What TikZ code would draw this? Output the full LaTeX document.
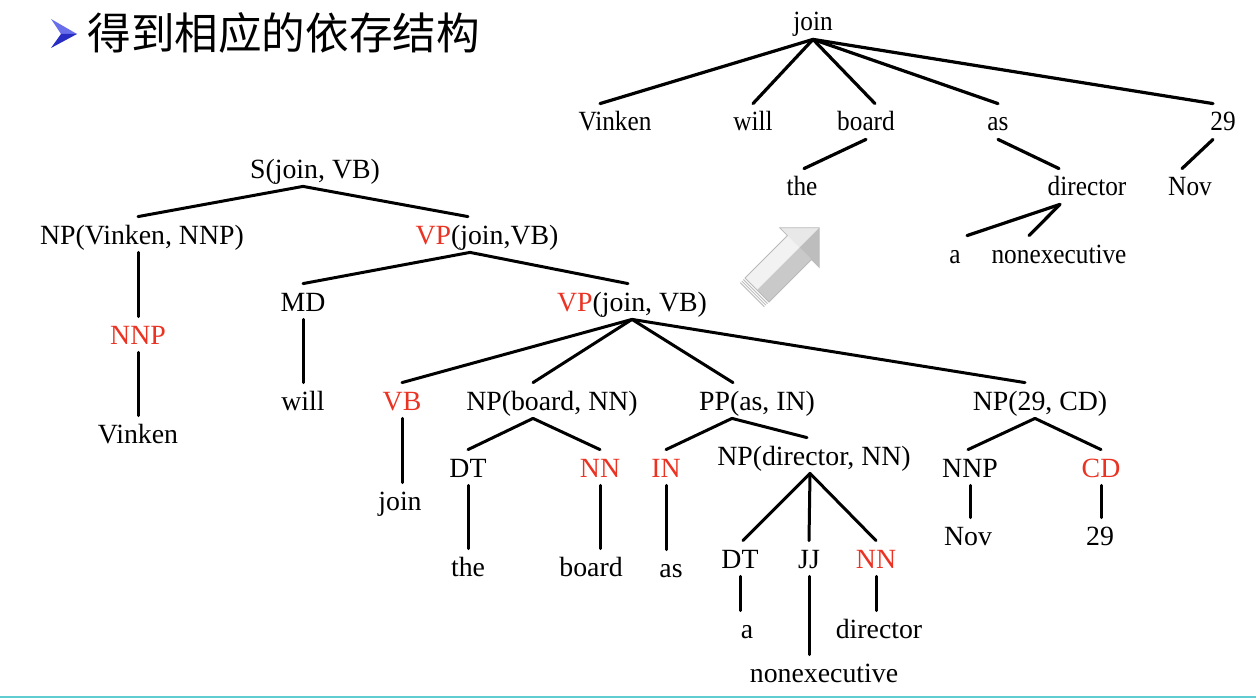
\documentclass[tikz,border=0pt]{standalone}
\usepackage{fontspec}
\setmainfont{Liberation Serif}
\newfontfamily\cjk{Noto Sans CJK SC}
\newfontfamily\narrowserif[FakeStretch=0.91]{Liberation Serif}
\definecolor{R}{RGB}{234,51,35}
\definecolor{L}{RGB}{95,205,210}
\definecolor{B}{RGB}{40,45,195}
\definecolor{BL}{RGB}{105,110,235}
\def\Xsize{1256}
\def\Ysize{700}

\begin{document}
\begin{tikzpicture}[x=0.5pt,y=-0.5pt,
    lab/.style={anchor=base,inner xsep=0pt,inner ysep=4pt,text height=9.5pt,text depth=0pt,font=\fontsize{13.9}{16}\selectfont},
    tw/.style={lab,font=\narrowserif\fontsize{13.9}{16}\selectfont},
    E/.style={line width=1.5pt,line cap=round}]
    \path[use as bounding box,fill=white] (0,0) rectangle (\Xsize,\Ysize);
    \fill[BL] (51,19) -- (77,34) -- (61,34) -- cycle;
    \fill[B] (61,34) -- (77,34) -- (51,48) -- cycle;
    \node[anchor=west,inner sep=0pt,font=\cjk\fontsize{21.8}{24}\selectfont] (title) at (87,33) {得到相应的依存结构};

    \node[lab] (S) at (315,178) {S(join, VB)};
    \node[lab] (NPv) at (142,244) {NP(Vinken, NNP)};
    \node[lab] (VPu) at (487,244) {\textcolor{R}{VP}(join,VB)};
    \node[lab] (MD) at (303,311) {MD};
    \node[lab] (VPl) at (632,311) {\textcolor{R}{VP}(join, VB)};
    \node[lab,R] (NNP) at (138,344) {NNP};
    \node[lab] (will) at (303,410) {will};
    \node[lab,R] (VB) at (402,410) {VB};
    \node[lab] (NPb) at (552,410) {NP(board, NN)};
    \node[lab] (PP) at (757,410) {PP(as, IN)};
    \node[lab] (NPn) at (1040,410) {NP(29, CD)};
    \node[lab] (Vinken) at (138,443) {Vinken};
    \node[lab] (NPd) at (814,465) {NP(director, NN)};
    \node[lab] (DTa) at (468,477) {DT};
    \node[lab,R] (NNa) at (600,477) {NN};
    \node[lab,R] (IN) at (666,477) {IN};
    \node[lab] (NNPb) at (970,477) {NNP};
    \node[lab,R] (CD) at (1101,477) {CD};
    \node[lab] (joinw) at (400,510) {join};
    \node[lab] (Nov) at (968,545) {Nov};
    \node[lab] (n29) at (1100,545) {29};
    \node[lab] (DTb) at (740,568) {DT};
    \node[lab] (JJ) at (809,568) {JJ};
    \node[lab,R] (NNb) at (876,568) {NN};
    \node[lab] (the) at (468,576) {the};
    \node[lab] (board) at (591,576) {board};
    \node[lab] (as) at (671,577) {as};
    \node[lab] (a) at (747,638) {a};
    \node[lab] (director) at (879,638) {director};
    \node[lab] (nonexec) at (824,682) {nonexecutive};

    \foreach \P/\dP/\C/\dC in {S/-6/NPv/-2,S/-6/VPu/-9.5,VPu/-8.5/MD/0,VPu/-8.5/VPl/-2,
        VPl/0/VB/0,VPl/0/NPb/-9.5,VPl/0/PP/-12,VPl/0/NPn/-7.5,NPb/-9.5/DTa/0,NPb/-9.5/NNa/0,
        PP/-12.5/IN/0,PP/-12.5/NPd/-3.5,NPd/-2/DTb/1.5,NPd/-2/JJ/0,NPd/-2/NNb/0,
        NPn/-2.5/NNPb/-1,NPn/-2.5/CD/0} {
        \draw[E] ([xshift=\dP pt]\P.south) -- ([xshift=\dC pt]\C.north);
    }
    \draw[E] (NNP.north |- NPv.south) -- (NNP.north);
    \foreach \P/\C in {NNP/Vinken,MD/will,VB/joinw,DTa/the,NNa/board,IN/as,DTb/a,JJ/nonexec,NNb/director,NNPb/Nov,CD/n29} {
        \draw[E] (\P.south) -- (\P.south |- \C.north);
    }

    \node[tw] (Tjoin) at (813,31) {join};
    \node[tw] (TVinken) at (615,131) {Vinken};
    \node[tw] (Twill) at (753,131) {will};
    \node[tw] (Tboard) at (866,131) {board};
    \node[tw] (Tas) at (998,131) {as};
    \node[tw] (T29) at (1223,131) {29};
    \node[tw] (Tthe) at (802,196) {the};
    \node[tw] (Tdirector) at (1087,196) {director};
    \node[tw] (TNov) at (1190,196) {Nov};
    \node[tw] (Ta) at (955,263) {a};
    \node[tw] (Tnonexec) at (1059,263) {nonexecutive};
    \foreach \P/\dP/\C/\dC in {Tjoin/0/TVinken/-7.5,Tjoin/0/Twill/0,Tjoin/0/Tboard/4.5,Tjoin/0/Tas/0,Tjoin/0/T29/-5,
        Tboard/0/Tthe/1,Tas/0/Tdirector/-14,T29/-5/TNov/-4,Tdirector/-13.5/Ta/6,Tdirector/-13.5/Tnonexec/-15} {
        \draw[E,line width=1.6pt] ([xshift=\dP pt]\P.south) -- ([xshift=\dC pt]\C.north);
    }

    \begin{scope}[shift={(757,290)},rotate=45]
        \fill[gray!10] (0,-17) -- (60,-17) -- (60,0) -- (0,0) -- cycle;
        \fill[gray!42] (0,0) -- (60,0) -- (60,17) -- (0,17) -- cycle;
        \fill[gray!18] (60,-28) -- (88,0) -- (60,0) -- cycle;
        \fill[gray!52] (60,0) -- (88,0) -- (60,28) -- cycle;
        \draw[gray!55,line width=0.4pt] (0,-17) -- (60,-17) -- (60,-28) -- (88,0) -- (60,28) -- (60,17) -- (0,17) -- cycle;
        \foreach \k in {1,2,3} {\draw[gray!50,line width=0.5pt] (-\k*2.2,-17) -- (-\k*2.2,17);}
    \end{scope}

    \draw[L,line width=1.2pt] (0,697) -- (\Xsize,697);
\end{tikzpicture}
\end{document}
